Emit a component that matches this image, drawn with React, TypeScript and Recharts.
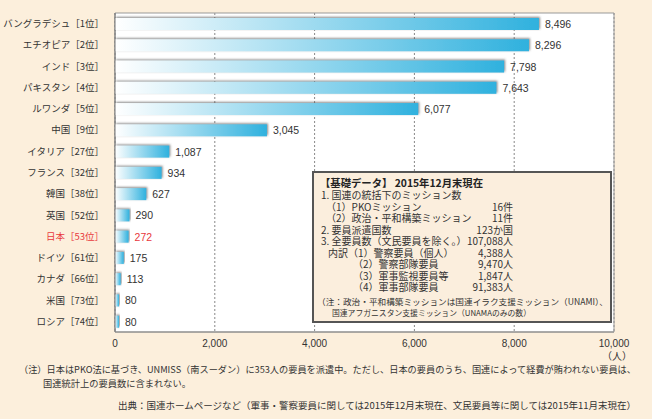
import { BarChart, Bar, XAxis, YAxis, CartesianGrid, ReferenceArea, LabelList } from "recharts";

const countries = ["バングラデシュ", "エチオピア", "インド", "パキスタン", "ルワンダ", "中国", "イタリア", "フランス", "韓国", "英国", "日本", "ドイツ", "カナダ", "米国", "ロシア"];
const ranks = [1, 2, 3, 4, 5, 9, 27, 32, 38, 52, 53, 61, 66, 73, 74];
const personnel = [8496, 8296, 7798, 7643, 6077, 3045, 1087, 934, 627, 290, 272, 175, 113, 80, 80];
const xTicks = [0, 2000, 4000, 6000, 8000, 10000];

const boxLines = [
  { left: "1.  国連の統括下のミッション数", right: "", x: 321 },
  { left: "（1）PKOミッション", right: "16件", x: 326 },
  { left: "（2）政治・平和構築ミッション", right: "11件", x: 326 },
  { left: "2.  要員派遣国数", right: "123か国", x: 321 },
  { left: "3.  全要員数（文民要員を除く。）", right: "107,088人", x: 321 },
  { left: "内訳（1）警察要員（個人）", right: "4,388人", x: 328 },
  { left: "（2）警察部隊要員", right: "9,470人", x: 353 },
  { left: "（3）軍事監視要員等", right: "1,847人", x: 353 },
  { left: "（4）軍事部隊要員", right: "91,383人", x: 353 },
];

const data = countries.map((c, i) => ({
  name: `${c}［${ranks[i]}位］`,
  value: personnel[i],
  japan: c === "日本",
}));

const FONT = "'Liberation Sans', 'Noto Sans CJK JP', sans-serif";
const JP = "'Noto Sans CJK JP', 'Liberation Sans', sans-serif";
const RED = "#e8383d";
const TEXT = "#333";

const CountryTick = (props: any) => {
  const { x, y, payload } = props;
  const red = payload.value.startsWith("日本");
  return (
    <text x={x} y={y} dy={3.5} textAnchor="end" fontSize={9.5} fill={red ? RED : TEXT} fontFamily={JP}>
      {payload.value}
    </text>
  );
};

const ValueLabel = (props: any) => {
  const { x, y, width, height, value, index } = props;
  const red = data[index].japan;
  return (
    <text x={x + width + 6} y={y + height / 2 + 4} fontSize={10.5} fill={red ? RED : TEXT} fontFamily={FONT}>
      {value.toLocaleString("en-US")}
    </text>
  );
};

const BarShape = (props: any) => {
  const { x, y, width, height } = props;
  return <rect x={x} y={y} width={width} height={height} fill="url(#barGrad)" filter="url(#barShadow)" />;
};

export default function App() {
  return (
    <div style={{ position: "fixed", left: 0, top: 0, width: 652, height: 419, background: "#fcefdc", fontFamily: FONT }}>
      <BarChart width={652} height={419} data={data} layout="vertical" margin={{ top: 13, right: 38, bottom: 67, left: 0 }}>
        <defs>
          <linearGradient id="barGrad" x1="0" y1="0" x2="1" y2="0">
            <stop offset="0%" stopColor="#ffffff" />
            <stop offset="100%" stopColor="#2fb1de" />
          </linearGradient>
          <filter id="barShadow" x="-10%" y="-60%" width="120%" height="220%">
            <feDropShadow dx="1" dy="-1" stdDeviation="1.2" floodColor="#555" floodOpacity="0.7" />
          </filter>
        </defs>
        <CartesianGrid horizontal={false} vertical stroke="#888" strokeDasharray="2 2" fill="#ffffff" />
        <XAxis
          type="number"
          domain={[0, 10000]}
          ticks={xTicks}
          tickFormatter={(v: number) => v.toLocaleString("en-US")}
          axisLine={{ stroke: "#888" }}
          tickLine={false}
          tick={{ fontSize: 10, fill: TEXT, fontFamily: FONT }}
          tickMargin={2}
          height={20}
        />
        <YAxis
          type="category"
          dataKey="name"
          width={115}
          axisLine={{ stroke: "#777" }}
          tickLine={false}
          tickMargin={5}
          tick={<CountryTick />}
          interval={0}
        />
        <ReferenceArea x1={0} x2={10000} fill="none" stroke="#999" strokeWidth={1} />
        <Bar dataKey="value" barSize={12} isAnimationActive={false} shape={<BarShape />}>
          <LabelList dataKey="value" content={<ValueLabel />} />
        </Bar>
      </BarChart>
      <svg width={652} height={419} style={{ position: "absolute", left: 0, top: 0, pointerEvents: "none" }} fontFamily={JP}>
        <rect x={313} y={172} width={298} height={150} fill="#fbeedd" stroke="#555" strokeWidth={2} />
        <text x={320} y={187} fontSize={10.3} fontWeight="bold" fill="#222" textLength={163} lengthAdjust="spacingAndGlyphs">【基礎データ】 2015年12月末現在</text>
        {boxLines.map((l, i) => (
          <g key={i}>
            <text x={l.x} y={199 + i * 11.5} fontSize={10} fill={TEXT}>{l.left}</text>
            {l.right && (
              <text x={513} y={199 + i * 11.5} fontSize={10} fill={TEXT} textAnchor="end">{l.right}</text>
            )}
          </g>
        ))}
        <text x={317} y={305} fontSize={8.5} fill={TEXT} textLength={291} lengthAdjust="spacingAndGlyphs">（注：政治・平和構築ミッションは国連イラク支援ミッション（UNAMI）、</text>
        <text x={332} y={316} fontSize={8} fill={TEXT} textLength={199} lengthAdjust="spacingAndGlyphs">国連アフガニスタン支援ミッション（UNAMAのみの数）</text>
        <text x={632} y={360} fontSize={10} fill={TEXT} textAnchor="end">（人）</text>
        <text x={19} y={373} fontSize={9.2} fill={TEXT} textLength={617} lengthAdjust="spacingAndGlyphs">（注）日本はPKO法に基づき、UNMISS（南スーダン）に353人の要員を派遣中。ただし、日本の要員のうち、国連によって経費が賄われない要員は、</text>
        <text x={43} y={387} fontSize={9.2} fill={TEXT} textLength={148} lengthAdjust="spacingAndGlyphs">国連統計上の要員数に含まれない。</text>
        <text x={118} y={409} fontSize={9.5} fill={TEXT} textLength={518} lengthAdjust="spacingAndGlyphs">出典：国連ホームページなど（軍事・警察要員に関しては2015年12月末現在、文民要員等に関しては2015年11月末現在）</text>
      </svg>
    </div>
  );
}
